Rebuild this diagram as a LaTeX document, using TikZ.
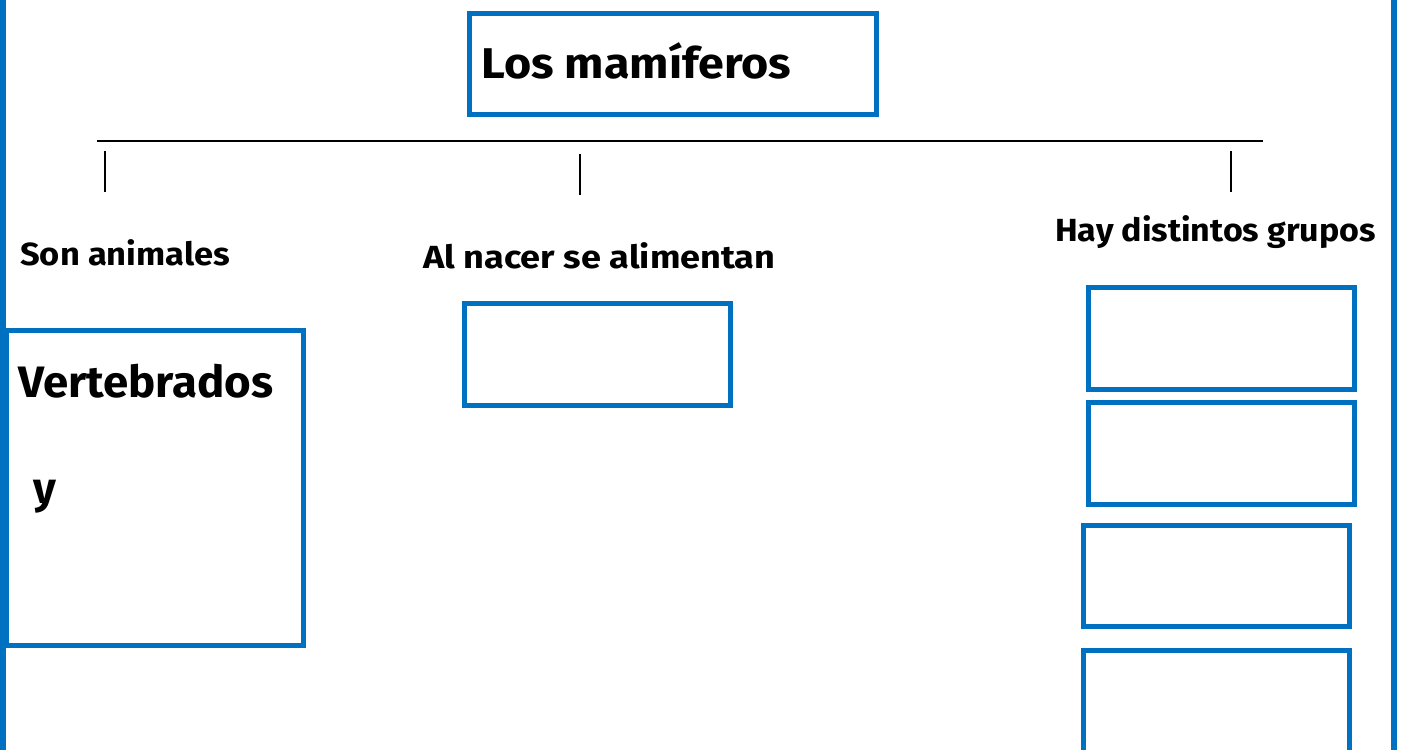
\documentclass[tikz,border=0pt]{standalone}
\usepackage{fontspec}
\usepackage{graphicx}
\setmainfont{Fira Sans}
\definecolor{frameblue}{RGB}{0,112,192}
\newcommand{\widetxt}[2]{\scalebox{#1}[1]{#2}}
\begin{document}
\begin{tikzpicture}[x=1pt,y=-1pt,
  bluebox/.style={draw=frameblue,line width=5.3pt,fill=none,inner sep=0pt,outer sep=0pt},
  frameline/.style={draw=frameblue,line width=5.5pt},
  rule/.style={draw=black,line width=1.4pt},
  lbl/.style={anchor=base west,inner sep=0pt,text=black,font=\bfseries}]
\clip (0,0) rectangle (1404,749);
\useasboundingbox (0,0) rectangle (1404,749);
\fill[white] (0,0) rectangle (1404,749);
% outer frame sides
\draw[frameline] (3,-10) -- (3,760);
\draw[frameline] (1394,-10) -- (1394,760);
% title box
\draw[bluebox] (469.5,13.5) rectangle (876.5,114.5);
\node[lbl,font=\bfseries\fontsize{43}{50}\selectfont] (title) at (481,79) {\widetxt{1.084}{Los mamíferos}};
% horizontal rule and ticks
\coordinate (barL) at (97,141);
\coordinate (barR) at (1263,141);
\draw[rule] (barL) -- (barR);
\coordinate (t1a) at (105,151); \coordinate (t1b) at (105,192);
\coordinate (t2a) at (580,154); \coordinate (t2b) at (580,195);
\coordinate (t3a) at (1231,151); \coordinate (t3b) at (1231,192);
\draw[rule] (t1a) -- (t1b);
\draw[rule] (t2a) -- (t2b);
\draw[rule] (t3a) -- (t3b);
% labels
\node[lbl,font=\bfseries\fontsize{32}{38}\selectfont] (son) at (20,265) {\widetxt{1.077}{Son animales}};
\node[lbl,font=\bfseries\fontsize{32}{38}\selectfont] (alnacer) at (423,268) {\widetxt{1.128}{Al nacer se alimentan}};
\node[lbl,font=\bfseries\fontsize{32}{38}\selectfont] (hay) at (1055,241) {\widetxt{1.063}{Hay distintos grupos}};
% left box
\draw[bluebox] (6,330.6) rectangle (303.3,645.4);
\node[lbl,font=\bfseries\fontsize{44}{50}\selectfont] (vert) at (18,397) {\widetxt{1.037}{Vertebrados}};
\node[lbl,font=\bfseries\fontsize{44}{50}\selectfont] (yy) at (33,503) {y};
% middle box
\draw[bluebox] (464.7,303.7) rectangle (730.3,405.3);
% right boxes
\draw[bluebox] (1088.7,287.7) rectangle (1354.3,389.3);
\draw[bluebox] (1088.7,402.7) rectangle (1354.3,504.3);
\draw[bluebox] (1083.7,525.7) rectangle (1349.3,626.3);
\draw[bluebox] (1083.7,650.7) rectangle (1349.3,790);
\end{tikzpicture}
\end{document}
